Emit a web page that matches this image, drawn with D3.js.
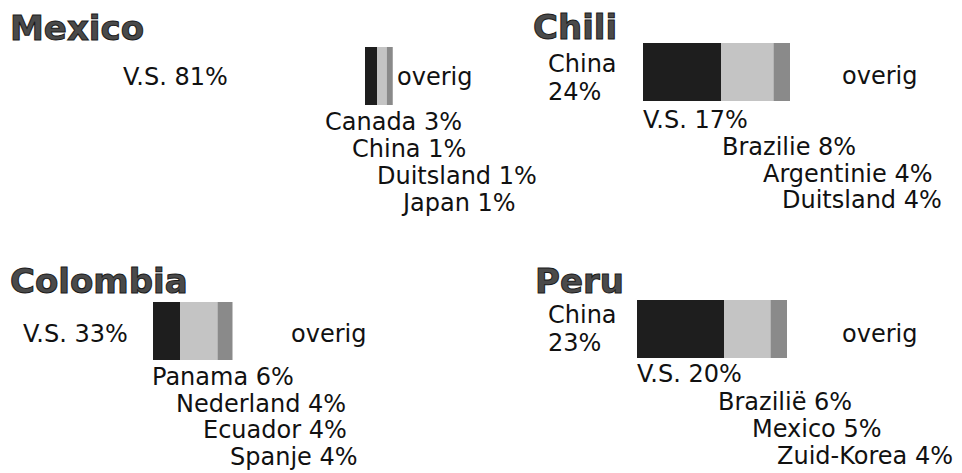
<html>
	<head>
		<meta charset="UTF-8">
		<title>Export partners</title>
		<script src="https://d3js.org/d3.v7.min.js"></script>
	<style>
		body{
			margin: 0;
			background: #fff;
		}
		svg{
			display: block;
		}
		.title{
			font-family: "DejaVu Sans", Verdana, sans-serif;
			font-weight: bold;
			font-size: 34px;
			fill: #4a4a4a;
			stroke: #1a1a1a;
			stroke-width: 1;
		}
		.label{
			font-family: "DejaVu Sans", Verdana, sans-serif;
			font-size: 24px;
			fill: #111;
		}
	</style>
	</head>
	<body>
		<script type="text/javascript">
			var width = 962;
			var height = 473;

			// data
			var countries = ["Mexico", "Chili", "Colombia", "Peru"];
			var partners = [
				["V.S.", "Canada", "China", "Duitsland", "Japan"],
				["China", "V.S.", "Brazilie", "Argentinie", "Duitsland"],
				["V.S.", "Panama", "Nederland", "Ecuador", "Spanje"],
				["China", "V.S.", "Brazilië", "Mexico", "Zuid-Korea"]
			];
			var shares = [
				[81, 3, 1, 1, 1],
				[24, 17, 8, 4, 4],
				[33, 6, 4, 4, 4],
				[23, 20, 6, 5, 4]
			];
			var otherLabel = "overig";
			// bar pieces as they appear in the picture (dark, light, grey)
			var barSegments = [
				[8, 6.5, 4],
				[52, 35, 11],
				[18, 25, 10],
				[58, 31, 11]
			];

			// layout for each panel
			var layout = [
				{title: [10, 40], lead: [123, 85], wrap: false, bar: [365, 47], other: [397, 85],
				 listX: [325, 352, 377, 403], listY: [130, 157, 184, 211]},
				{title: [533, 39], lead: [548, 72], wrap: true, bar: [643, 43], other: [842, 84],
				 listX: [643, 722, 763, 782], listY: [128, 155, 182, 208]},
				{title: [10, 293], lead: [23, 342], wrap: false, bar: [153, 302], other: [291, 342],
				 listX: [152, 176, 203, 230], listY: [385, 412, 438, 465]},
				{title: [535, 293], lead: [548, 323], wrap: true, bar: [637, 300], other: [842, 342],
				 listX: [637, 718, 752, 777], listY: [382, 410, 437, 464]}
			];
			var barHeight = 58;
			var segColors = ["#1e1e1e", "#c4c4c4", "#8a8a8a"];

			var x = d3.scaleLinear().domain([0, 100]).range([0, 150]);

			var svg = d3.select("body")
						.append("svg")
						.attr("width", width)
						.attr("height", height);

			countries.forEach(function(c, i){
				var lay = layout[i];
				var g = svg.append("g");

				g.append("text")
					.attr("class", "title")
					.attr("x", lay.title[0])
					.attr("y", lay.title[1])
					.text(c);

				// stacked bar
				var stack = [];
				var acc = 0;
				barSegments[i].forEach(function(v, j){
					stack.push({start: acc, value: v, color: segColors[j]});
					acc += v;
				});
				g.selectAll("rect")
					.data(stack)
					.enter()
					.append("rect")
					.attr("x", function(d){ return lay.bar[0] + x(d.start); })
					.attr("y", lay.bar[1])
					.attr("width", function(d){ return x(d.value); })
					.attr("height", barHeight)
					.attr("fill", function(d){ return d.color; });

				// biggest partner next to the bar
				if(lay.wrap){
					var t = g.append("text")
						.attr("class", "label")
						.attr("x", lay.lead[0])
						.attr("y", lay.lead[1]);
					t.append("tspan").attr("x", lay.lead[0]).text(partners[i][0]);
					t.append("tspan").attr("x", lay.lead[0]).attr("dy", 28).text(shares[i][0] + "%");
				} else {
					g.append("text")
						.attr("class", "label")
						.attr("x", lay.lead[0])
						.attr("y", lay.lead[1])
						.text(partners[i][0] + " " + shares[i][0] + "%");
				}

				g.append("text")
					.attr("class", "label")
					.attr("x", lay.other[0])
					.attr("y", lay.other[1])
					.text(otherLabel);

				// the rest, stepped below the bar
				g.selectAll("text.rest")
					.data(partners[i].slice(1))
					.enter()
					.append("text")
					.attr("class", "label rest")
					.attr("x", function(d, j){ return lay.listX[j]; })
					.attr("y", function(d, j){ return lay.listY[j]; })
					.text(function(d, j){ return d + " " + shares[i][j + 1] + "%"; });
			});
		</script>
	</body>
</html>
